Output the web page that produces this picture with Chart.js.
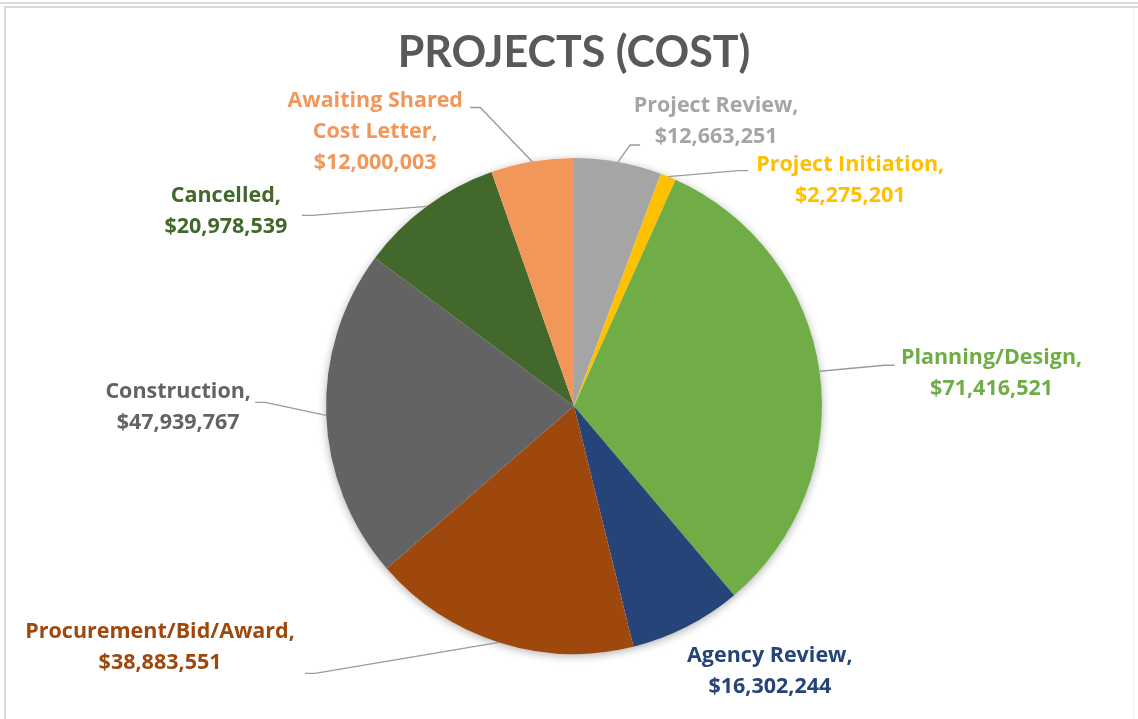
<!DOCTYPE html>
<html>
<head>
<meta charset="utf-8">
<title>Projects (Cost)</title>
<script src="https://cdn.jsdelivr.net/npm/chart.js@4.4.1/dist/chart.umd.min.js"></script>
<style>
  html, body { margin: 0; padding: 0; background: #fff; }
  #wrap { position: relative; width: 1138px; height: 719px; overflow: hidden; }
  .rule { position: absolute; background: #dadada; }
  #chartBox { position: absolute; left: 0; top: 0; width: 1138px; height: 719px; }
</style>
</head>
<body>
<div id="wrap">
  <div class="rule" style="left:0;top:2px;width:1138px;height:2px"></div>
  <div class="rule" style="left:4px;top:6px;width:1134px;height:2px"></div>
  <div class="rule" style="left:4px;top:6px;width:2px;height:713px"></div>
  <div class="rule" style="left:1133px;top:8px;width:1px;height:711px;background:#efefef"></div>
  <div id="chartBox"><canvas id="myPieChart" width="1138" height="719"></canvas></div>
</div>
<script>
// project stages, clockwise from 12 o'clock
var categories = ["Project Review", "Project Initiation", "Planning/Design", "Agency Review",
                  "Procurement/Bid/Award", "Construction", "Cancelled", "Awaiting Shared Cost Letter"];
var costs = [12663251, 2275201, 71416521, 16302244, 38883551, 47939767, 20978539, 12000003];
var colors = ["#A5A5A5", "#FFC000", "#70AD47", "#264478", "#9E480E", "#636363", "#43682B", "#F1975A"];

// label block centre offset from the slice edge [dx, dy], and where the leader meets the label [ax, ay]
var labelOffset = [[98, -41], [182, 4], [172, 2], [83, 45], [-339, 5], [-148, -8], [-201, 5], [-157, -30]];
var leaderAttach = [[-76, 24], [-102, -10], [-97, -8], null, [145, 26], [77, -5], [76, 4], [95, -24]];

var LABEL_FONT = "bold 21.5px 'Open Sans'";
var LINE_H = 31;

function labelLines(name, value) {
    var lines = [];
    if (name.length > 20 && name.indexOf(" ") > 0) {
        var words = name.split(" ");
        var half = Math.ceil(words.length / 2);
        lines.push(words.slice(0, half).join(" "));
        lines.push(words.slice(half).join(" ") + ",");
    } else {
        lines.push(name + ",");
    }
    lines.push("$" + value.toLocaleString("en-US"));
    return lines;
}

var pieDecor = {
    id: "pieDecor",
    beforeDatasetsDraw: function(chart) {
        // soft drop shadow behind the whole pie
        var a = chart.getDatasetMeta(0).data[0];
        var ctx = chart.ctx;
        ctx.save();
        ctx.shadowColor = "rgba(0,0,0,0.30)";
        ctx.shadowBlur = 9;
        ctx.shadowOffsetY = 2;
        ctx.fillStyle = "#fff";
        ctx.beginPath();
        ctx.arc(a.x, a.y, a.outerRadius, 0, Math.PI * 2);
        ctx.fill();
        ctx.restore();
    },
    afterDatasetsDraw: function(chart) {
        var ctx = chart.ctx;
        var meta = chart.getDatasetMeta(0);
        var ds = chart.data.datasets[0];
        ctx.save();
        ctx.font = LABEL_FONT;
        meta.data.forEach(function(arc, i) {
            var p = arc.getProps(["x", "y", "startAngle", "endAngle", "outerRadius"], true);
            var mid = (p.startAngle + p.endAngle) / 2;
            var ex = p.x + p.outerRadius * Math.cos(mid);
            var ey = p.y + p.outerRadius * Math.sin(mid);
            var bx = ex + labelOffset[i][0];
            var by = ey + labelOffset[i][1];

            // leader line: short horizontal stub at the label, then straight to the slice
            if (leaderAttach[i]) {
                var ax = bx + leaderAttach[i][0];
                var ay = by + leaderAttach[i][1];
                var kx = ax + (ex > ax ? 10 : -10);
                ctx.strokeStyle = "#9b9b9b";
                ctx.lineWidth = 1.4;
                ctx.beginPath();
                ctx.moveTo(ax, ay);
                ctx.lineTo(kx, ay);
                ctx.lineTo(ex, ey);
                ctx.stroke();
            }

            var lines = labelLines(chart.data.labels[i], ds.data[i]);
            ctx.fillStyle = colors[i];
            ctx.textAlign = "center";
            ctx.textBaseline = "middle";
            lines.forEach(function(t, k) {
                ctx.fillText(t, bx, by - (lines.length - 1) / 2 * LINE_H + k * LINE_H);
            });
        });
        ctx.restore();
    },
    afterDraw: function(chart) {
        var ctx = chart.ctx;
        ctx.save();
        ctx.font = "bold 43px Lato";
        ctx.fillStyle = "#595959";
        ctx.textAlign = "center";
        ctx.textBaseline = "alphabetic";
        ctx.fillText("PROJECTS (COST)", 574, 67);
        ctx.restore();
    }
};

var ctx = document.getElementById("myPieChart");
var myPieChart = new Chart(ctx, {
    type: "pie",
    data: {
        labels: categories,
        datasets: [{
            data: costs,
            backgroundColor: colors,
            borderWidth: 0
        }]
    },
    options: {
        responsive: false,
        animation: false,
        layout: {
            padding: { top: 158, bottom: 65, left: 300, right: 290 }
        },
        plugins: {
            legend: { display: false },
            tooltip: { enabled: false },
            title: { display: false }
        }
    },
    plugins: [pieDecor]
});
</script>
</body>
</html>
